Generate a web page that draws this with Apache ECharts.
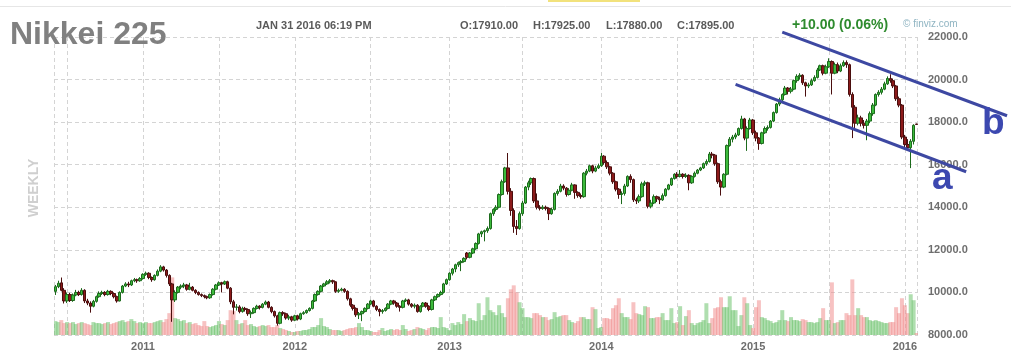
<!DOCTYPE html>
<html><head><meta charset="utf-8">
<script src="https://cdn.jsdelivr.net/npm/echarts@6/dist/echarts.min.js"></script>
<style>html,body{margin:0;padding:0;background:#fff;}#c{width:1011px;height:358px;}</style>
</head><body><div id="c"></div>
<script>
// ---- data (weekly bars, first week starting 2010-06-07) ----
const START_WEEK = [2010, 6, 7];
const open = [
10050,10270,10450,10100,9600,9900,9620,9880,10000,9900,
10100,9600,9500,9350,9580,9800,9950,10000,9900,10050,
9950,9800,9600,10000,10300,10400,10350,10550,10600,10550,
10650,10850,10900,10700,10600,10800,11000,11200,11050,10800,
10400,9650,10000,10250,10300,10350,10150,10250,10100,10000,
9900,9850,9800,9750,9900,10150,10350,10450,10400,10500,
10200,9560,9300,9320,9100,9250,9200,9000,9050,9250,
9350,9300,9450,9550,9300,9100,8900,8550,9050,9000,
8800,8850,8700,8900,8750,9000,9050,9150,9250,9600,
9900,10050,10300,10400,10500,10550,10500,10050,10100,10150,
10050,9700,9400,9250,8950,9000,9100,9250,9450,9600,
9350,9200,9100,9150,9250,9450,9600,9500,9350,9300,
9600,9650,9450,9350,9400,9100,9350,9500,9350,9200,
9650,9800,9900,10000,10400,10600,10900,11100,11300,11400,
11450,11850,11650,11850,12050,12300,12750,12850,12900,13000,
13700,13900,14000,14600,15200,15850,14750,13850,13100,13000,
13700,14200,14950,15150,15350,14300,14000,13950,14000,13950,
13700,13900,14650,14750,15000,14900,14600,14800,15050,14700,
14550,14500,15600,15700,15950,15700,15850,15950,16400,16100,
15900,15600,15200,14850,14600,14650,15000,15450,15300,14350,
14300,14500,15100,15150,14050,14200,14500,14400,14350,14550,
14850,15050,15350,15550,15450,15550,15450,15500,15150,15450,
15600,15750,15850,16050,16150,16500,16450,16050,15200,14950,
15550,16900,17200,17300,17400,17700,18150,17250,17700,18100,
17500,17250,17000,17500,17700,17750,18050,18450,18850,19050,
19300,19600,19450,19550,19950,20150,20200,19850,19700,19750,
19950,20100,20450,20650,20300,20600,20850,20300,20700,20400,
20650,20800,20700,19300,18700,17950,18200,17950,17850,18050,
18400,18800,19300,19400,19550,19800,20050,19950,19700,19100,
18800,17300,16950,16800,17100,17910];
const close = [
10270,10430,10100,9600,9900,9620,9880,10000,9900,10100,
9600,9500,9350,9580,9800,9950,10000,9900,10050,9950,
9800,9600,10000,10300,10400,10350,10550,10600,10550,10650,
10850,10900,10700,10600,10800,11000,11200,11050,10800,10400,
9650,10000,10250,10300,10350,10150,10250,10100,10000,9900,
9850,9800,9750,9900,10150,10350,10450,10400,10500,10200,
9560,9300,9320,9100,9250,9200,9000,9050,9250,9350,
9300,9450,9550,9300,9100,8900,8550,9050,9000,8800,
8850,8700,8900,8750,9000,9050,9150,9250,9600,9900,
10050,10300,10400,10500,10550,10500,10050,10100,10150,10050,
9700,9400,9250,8950,9000,9100,9250,9450,9600,9350,
9200,9100,9150,9250,9450,9600,9500,9350,9300,9600,
9650,9450,9350,9400,9100,9350,9500,9350,9200,9650,
9800,9900,10000,10400,10600,10900,11100,11300,11400,11450,
11600,11650,11850,12050,12300,12750,12850,12900,13000,13700,
13900,14000,14600,15200,15850,14750,13850,13100,13000,13700,
14200,14950,15150,15350,14300,14000,13950,14000,13950,13700,
13900,14650,14750,15000,14900,14600,14800,15050,14700,14550,
14500,15600,15700,15950,15700,15850,15950,16400,16100,15900,
15600,15200,14850,14600,14650,15000,15450,15300,14350,14300,
14500,15100,15150,14050,14200,14500,14400,14350,14550,14850,
15050,15350,15550,15450,15550,15450,15500,15150,15450,15600,
15750,15850,16050,16150,16500,16450,16050,15200,14950,15550,
16900,17200,17300,17400,17700,18150,17250,17700,18100,17500,
17250,17000,17500,17700,17750,18050,18450,18850,19050,19300,
19600,19450,19550,19950,20150,20200,19850,19700,19750,19950,
20100,20450,20650,20300,20600,20850,20300,20700,20400,20650,
20800,20700,19300,18700,17950,18200,17950,17850,18050,18400,
18800,19300,19400,19550,19800,20050,19950,19700,19100,18800,
17300,16950,16800,17100,17850,17895];
const low = [
9880,10200,10050,9480,9500,9550,9560,9820,9830,9850,
9500,9400,9050,9300,9520,9750,9880,9820,9850,9870,
9720,9520,9580,9950,10250,10250,10300,10480,10450,10500,
10600,10780,10620,10500,10550,10750,10950,10980,10700,10300,
8620,9550,9950,10150,10200,10080,10100,10050,9920,9850,
9780,9720,9680,9700,9850,10100,10300,10000,10350,10150,
9450,8970,9150,9020,9050,9100,8900,8800,9000,9200,
9200,9250,9400,9250,9020,8820,8440,8500,8900,8720,
8700,8620,8650,8680,8700,8950,9000,9100,9200,9550,
9850,10000,10250,10350,10420,10400,9980,9980,10050,9980,
9620,9320,9150,8850,8750,8650,9050,9200,9400,9300,
9120,8880,9000,9100,9200,9400,9420,9280,9100,9250,
9550,9380,9280,9250,9050,9050,9300,9280,9120,9150,
9600,9750,9850,9950,10350,10550,10800,10950,11200,11000,
11400,11550,11600,11800,12000,12250,12600,12400,12800,12950,
13600,13800,13950,14550,15150,14600,13600,12800,12700,12950,
13600,14150,14800,15050,14200,13900,13850,13880,13850,13400,
13650,13850,14550,14700,14800,14500,14550,14750,14400,14450,
14400,14450,15500,15650,15600,15650,15800,15900,16000,15800,
15500,15100,14750,14400,14150,14550,14950,15150,14250,14150,
14200,14450,15000,13950,13950,14150,14250,14150,14300,14500,
14800,15000,15300,15350,15400,15350,15380,14800,15100,15400,
15550,15700,15800,15950,16100,16300,15950,15100,14550,14900,
15500,16850,17050,17200,17350,17650,17150,16650,17650,17400,
17100,16700,16950,17450,17600,17700,18000,18400,18750,18950,
19250,19300,19350,19500,19850,20000,19750,19200,19600,19700,
19900,20050,20400,20200,20250,20550,19300,20250,20300,20350,
20600,20550,19200,17250,17700,17850,17800,17700,17150,17950,
18300,18750,19200,19300,19500,19750,19850,19600,19000,18700,
17200,16800,16650,15840,16950,17880];
const high = [
10350,10550,10700,10200,10000,9980,9950,10120,10080,10200,
10150,9700,9580,9650,9850,10050,10080,10060,10120,10100,
10000,9850,10050,10350,10480,10500,10600,10680,10650,10720,
10900,10980,10950,10750,10850,11080,11280,11250,11100,10850,
10450,10100,10300,10380,10450,10400,10450,10300,10150,10050,
9950,9900,9850,9950,10200,10400,10520,10500,10560,10550,
10250,9650,9450,9400,9330,9320,9250,9150,9300,9420,
9400,9500,9620,9600,9350,9150,8950,9100,9120,9050,
8950,8900,8950,8950,9050,9120,9200,9300,9650,9950,
10100,10350,10450,10580,10630,10600,10520,10180,10220,10200,
10100,9750,9450,9300,9080,9150,9300,9500,9650,9650,
9400,9250,9220,9300,9500,9650,9650,9550,9400,9650,
9720,9700,9500,9480,9450,9400,9550,9550,9400,9700,
9850,9950,10080,10450,10650,10950,11150,11350,11450,11520,
11650,11900,11900,12100,12350,12800,12900,12950,13100,13750,
13950,14100,14650,15300,15900,16550,14900,13950,13400,13800,
14300,15000,15250,15400,15400,14650,14100,14100,14080,14000,
13980,14700,14850,15100,15080,14950,14900,15150,15080,14750,
14650,15650,15800,16000,16000,15950,16050,16550,16450,16200,
15950,15650,15250,14900,14750,15100,15500,15550,15350,14450,
14600,15200,15250,15200,14350,14600,14550,14500,14650,14900,
15100,15400,15600,15650,15750,15600,15600,15550,15500,15680,
15800,15900,16100,16250,16600,16600,16500,16100,15300,15600,
16950,17300,17400,17500,17750,18300,18200,17800,18200,18150,
17600,17300,17550,17800,17850,18100,18500,18900,19150,19350,
19700,19650,19650,20000,20250,20300,20250,19900,19850,20050,
20200,20550,20700,20700,20700,21000,20900,20800,20800,20750,
20900,20900,20750,19400,18800,18350,18300,18100,18150,18500,
18900,19350,19500,19650,19900,20150,20250,20050,19750,19200,
18850,17400,17200,17200,17900,17925];
const volume = [
14,13,15,12,13,12,13,11,12,13, 12,11,10,13,12,12,11,12,13,11,
12,13,14,15,13,14,16,14,12,13, 12,13,12,12,13,14,15,13,16,22,
58,17,16,14,15,12,13,11,12,10, 9,14,9,8,9,10,14,11,10,15,
25,24,15,11,12,15,10,11,9,8, 9,10,9,10,8,8,10,7,6,5,
4,3,3,4,4,5,5,6,8,8, 10,17,9,8,6,5,5,5,4,5,
6,7,7,8,12,8,5,5,4,3, 3,5,7,4,5,6,5,6,5,10,
6,4,5,6,8,7,6,5,7,8, 8,7,18,8,7,5,12,10,13,11,
21,14,17,15,14,32,15,20,38,25, 23,20,30,22,18,37,46,50,43,33,
27,18,18,17,22,22,20,18,18,15, 16,23,18,19,20,20,15,13,12,14,
18,18,16,16,28,26,7,8,17,17, 16,27,30,37,22,18,18,16,33,22,
21,20,29,28,17,17,18,18,22,15, 15,27,12,13,29,10,19,25,12,10,
12,13,15,32,12,17,27,28,38,28, 28,39,25,25,9,20,38,32,10,7,
28,35,18,17,15,14,12,13,15,25, 15,14,18,15,15,14,16,15,13,13,
12,13,17,27,15,15,53,12,13,15, 15,22,20,56,20,27,20,18,18,15,
14,15,14,13,12,12,13,13,28,22, 37,30,22,41,35,2];
const priceTicks = {min: 8000, max: 22000, step: 2000};
const lastBar = {date: 'JAN 31 2016 06:19 PM', o: '17910.00', h: '17925.00', l: '17880.00', c: '17895.00', last: 17895};
const change = '+10.00 (0.06%)';
// hand-drawn channel lines (category index, price)
const trendB = [[248.8, 22230], [325.9, 18300]];
const trendA = [[232.5, 19770], [312.2, 15670]];

// ---- build ----
const categories = [];
const t0 = Date.UTC(START_WEEK[0], START_WEEK[1] - 1, START_WEEK[2]);
for (let i = 0; i < close.length; i++) {
  categories.push(new Date(t0 + i * 7 * 86400000).toISOString().slice(0, 10));
}
const isYearStart = v => +v.slice(5, 7) === 1 && +v.slice(8, 10) <= 7;
const isHalfStart = v => +v.slice(5, 7) === 7 && +v.slice(8, 10) <= 7;
const ohlc = close.map((c, i) => [open[i], c, low[i], high[i]]);

const FONT = '"Liberation Sans", Arial, sans-serif';
const GRID = {left: 54, right: 93, top: 37, bottom: 23};
const W = 1011, H = 358;
const gridColor = '#d4d4d4';

const chart = echarts.init(document.getElementById('c'), null, {renderer: 'canvas'});
chart.setOption({
  animation: false,
  backgroundColor: '#ffffff',
  textStyle: {fontFamily: FONT},
  grid: Object.assign({containLabel: false, outerBoundsMode: 'none'}, GRID),
  xAxis: [{
    type: 'category', data: categories, boundaryGap: true,
    axisLine: {show: false}, axisTick: {show: false},
    axisLabel: {interval: (i, v) => isYearStart(v), formatter: v => v.slice(0, 4),
      color: '#6e6e6e', fontWeight: 'bold', fontSize: 11, margin: 6, fontFamily: FONT},
    splitLine: {show: true, alignWithLabel: true, interval: (i, v) => isYearStart(v) || isHalfStart(v),
      lineStyle: {color: gridColor, type: [4, 3], width: 1}}
  }],
  yAxis: [{
    type: 'value', position: 'right', min: priceTicks.min, max: priceTicks.max, interval: priceTicks.step,
    axisLine: {show: false}, axisTick: {show: false},
    axisLabel: {formatter: v => v.toFixed(2).slice(0, 7), color: '#6e6e6e', fontWeight: 'bold',
      fontSize: 11, margin: 10, align: 'left', fontFamily: FONT},
    splitLine: {show: true, lineStyle: {color: gridColor, type: [4, 3], width: 1}}
  }, {
    type: 'value', min: 0, max: 300, show: false, splitLine: {show: false}
  }],
  series: [{
    type: 'bar', name: 'Volume', yAxisIndex: 1, data: volume, barWidth: 4, z: 1, silent: true,
    itemStyle: {color: p => close[p.dataIndex] >= open[p.dataIndex] ? 'rgba(96,190,96,0.5)' : 'rgba(240,138,138,0.52)'}
  }, {
    type: 'candlestick', name: 'Nikkei 225', data: ohlc, barWidth: 3, z: 3,
    itemStyle: {color: '#3cbb3c', color0: '#8c1a1a', borderColor: '#1c6a1c', borderColor0: '#4a0e0e', borderWidth: 1},
    markLine: {
      silent: true, symbol: 'none', animation: false,
      lineStyle: {opacity: 0},
      data: [{yAxis: lastBar.last}],
      label: {position: 'end', distance: 7, formatter: () => (lastBar.last.toFixed(2)).slice(0, 7),
        backgroundColor: '#ffff3c', color: '#333', fontWeight: 'bold', fontSize: 11,
        padding: [2, 2, 1, 3], fontFamily: FONT}
    }
  }]
});

// annotations & header
const px = p => chart.convertToPixel({xAxisIndex: 0, yAxisIndex: 0}, p);
const b1 = px(trendB[0]), b2 = px(trendB[1]), a1 = px(trendA[0]), a2 = px(trendA[1]);
const blue = '#3d48a2';
const txt = (t, x, y, size, color, weight, extra) => Object.assign({
  type: 'text', x: x, y: y, z: 100,
  style: {text: t, fill: color, font: (weight || 'bold') + ' ' + size + 'px ' + FONT, align: 'left', verticalAlign: 'middle'}
}, extra || {});
chart.setOption({
  graphic: [
    {type: 'line', shape: {x1: 0, y1: 6.5, x2: W, y2: 6.5}, style: {stroke: '#e6e6e6', lineWidth: 1}},
    {type: 'rect', shape: {x: 548, y: 0, width: 92, height: 2}, style: {fill: '#f2e27c'}},
    {type: 'line', shape: {x1: GRID.left + 0.5, y1: GRID.top, x2: GRID.left + 0.5, y2: H - GRID.bottom},
      style: {stroke: gridColor, lineWidth: 1, lineDash: [4, 3]}},
    {type: 'line', shape: {x1: W - GRID.right - 0.5, y1: GRID.top, x2: W - GRID.right - 0.5, y2: H - GRID.bottom},
      style: {stroke: gridColor, lineWidth: 1, lineDash: [4, 3]}},
    txt('Nikkei 225', 10, 35, 32, '#808080'),
    txt(lastBar.date, 256, 26, 11, '#5a5a5a'),
    txt('O:' + lastBar.o, 460, 26, 11, '#5a5a5a'),
    txt('H:' + lastBar.h, 533, 26, 11, '#5a5a5a'),
    txt('L:' + lastBar.l, 606, 26, 11, '#5a5a5a'),
    txt('C:' + lastBar.c, 677, 26, 11, '#5a5a5a'),
    txt(change, 792, 25, 14, '#2e8b2e'),
    txt('\u00a9 finviz.com', 903, 24, 10, '#8fb4c2', 'normal'),
    txt('WEEKLY', 34, 188, 14, '#cfcfcf', 'bold', {rotation: Math.PI / 2, style: {text: 'WEEKLY', fill: '#cfcfcf',
      font: 'bold 14px ' + FONT, align: 'center', verticalAlign: 'middle'}}),
    {type: 'line', z: 90, shape: {x1: b1[0], y1: b1[1], x2: b2[0], y2: b2[1]}, style: {stroke: blue, lineWidth: 3}},
    {type: 'line', z: 90, shape: {x1: a1[0], y1: a1[1], x2: a2[0], y2: a2[1]}, style: {stroke: blue, lineWidth: 3}},
    txt('a', 932, 179, 37, '#3c48b0'),
    txt('b', 982, 124, 37, '#3c48b0')
  ]
});
</script></body></html>
